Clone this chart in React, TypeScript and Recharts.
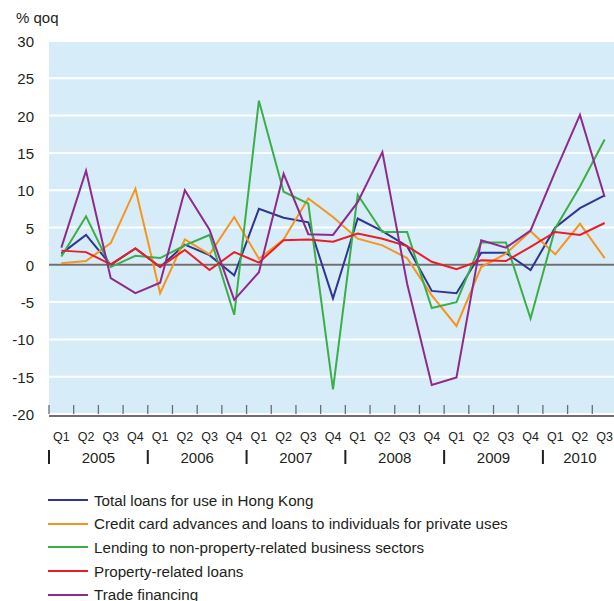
import React from 'react';
import { LineChart, Line, XAxis, YAxis, CartesianGrid, ReferenceLine } from 'recharts';

const quarters = ['Q1', 'Q2', 'Q3', 'Q4', 'Q1', 'Q2', 'Q3', 'Q4', 'Q1', 'Q2', 'Q3', 'Q4', 'Q1', 'Q2', 'Q3', 'Q4', 'Q1', 'Q2', 'Q3', 'Q4', 'Q1', 'Q2', 'Q3'];
const years = ['2005', '2006', '2007', '2008', '2009', '2010'];
const yTicks = [-20, -15, -10, -5, 0, 5, 10, 15, 20, 25, 30];

const totalLoans = [1.5, 4.0, 0.0, 2.2, -0.3, 2.7, 1.3, -1.4, 7.5, 6.3, 5.7, -4.5, 6.2, 4.5, 2.5, -3.5, -3.8, 1.6, 1.6, -0.7, 5.0, 7.6, 9.3];
const creditCard = [0.2, 0.5, 2.9, 10.2, -3.8, 3.4, 1.4, 6.4, 0.8, 3.4, 8.9, 6.4, 3.5, 2.6, 0.9, -4.1, -8.2, -0.3, 1.5, 4.5, 1.4, 5.5, 0.9];
const business = [1.1, 6.5, -0.3, 1.2, 0.9, 2.6, 4.0, -6.7, 22.0, 9.8, 8.2, -16.7, 9.4, 4.4, 4.4, -5.8, -5.0, 3.0, 3.0, -7.2, 4.9, 10.5, 16.8];
const property = [1.9, 1.7, 0.05, 2.2, -0.3, 2.0, -0.7, 1.7, 0.3, 3.3, 3.4, 3.1, 4.2, 3.5, 2.5, 0.4, -0.6, 0.6, 0.5, 2.4, 4.4, 4.0, 5.6];
const trade = [2.3, 12.6, -1.8, -3.8, -2.4, 10.0, 4.7, -4.7, -1.0, 12.2, 4.1, 4.0, 8.4, 15.1, -2.5, -16.1, -15.1, 3.3, 2.3, 4.6, 12.5, 20.1, 9.1];

const series = [
  { key: 'total', name: 'Total loans for use in Hong Kong', color: '#2e3592', values: totalLoans },
  { key: 'credit', name: 'Credit card advances and loans to individuals for private uses', color: '#f7941d', values: creditCard },
  { key: 'business', name: 'Lending to non-property-related business sectors', color: '#3cae48', values: business },
  { key: 'property', name: 'Property-related loans', color: '#ed1c24', values: property },
  { key: 'trade', name: 'Trade financing', color: '#8e2a8e', values: trade },
];

const data = quarters.map((q, i) => {
  const row: any = { x: i + 0.5, q };
  series.forEach((s) => { row[s.key] = s.values[i]; });
  return row;
});

const n = quarters.length;
const centers = quarters.map((_, i) => i + 0.5);
const bounds = Array.from({ length: n + 1 }, (_, i) => i);
const yearCenters = years.map((_, i) => (i * 4 + Math.min(i * 4 + 4, n)) / 2);

const FONT = '"Liberation Sans", Arial, Helvetica, sans-serif';
const TEXT = '#231f20';
const PLOT_BOTTOM = 414;

const QTick = (props: any) => (
  <text x={props.x} y={441} textAnchor="middle" fontSize={12.5} fill={TEXT} fontFamily={FONT}>
    {quarters[props.index]}
  </text>
);

const MarkTick = (props: any) => {
  const k = props.payload.value;
  return (
    <g>
      <line x1={props.x} x2={props.x} y1={PLOT_BOTTOM - 9} y2={PLOT_BOTTOM} stroke="#6d6e71" strokeWidth={1.3} />
      {k % 4 === 0 && k < n && (
        <line x1={props.x} x2={props.x} y1={450} y2={464} stroke={TEXT} strokeWidth={2} />
      )}
    </g>
  );
};

const YearTick = (props: any) => (
  <text x={props.x} y={462.5} textAnchor="middle" fontSize={15} fill={TEXT} fontFamily={FONT}>
    {years[props.index]}
  </text>
);

const YTick = (props: any) => (
  <text x={34} y={props.y + 6} textAnchor="end" fontSize={15} fill={TEXT} fontFamily={FONT}>
    {props.payload.value}
  </text>
);

export default function App() {
  return (
    <div style={{ position: 'absolute', left: 0, top: 0, width: 614, height: 601, overflow: 'hidden', background: '#fff', fontFamily: FONT }}>
      <div style={{ position: 'absolute', left: 16, top: 9, fontSize: 15, color: TEXT }}>% qoq</div>
      <LineChart width={617} height={480} data={data} margin={{ top: 41, right: 0, bottom: 0, left: 0 }}>
        <CartesianGrid xAxisId="q" vertical={false} stroke="#ffffff" strokeWidth={2} fill="#d6ecf8" fillOpacity={1} />
        <XAxis xAxisId="q" type="number" dataKey="x" domain={[0, n]} ticks={centers} interval={0}
          tick={QTick} tickLine={false} axisLine={{ stroke: '#6d6e71', strokeWidth: 2 }} height={62} />
        <XAxis xAxisId="marks" type="number" dataKey="x" domain={[0, n]} ticks={bounds} interval={0}
          tick={MarkTick} tickLine={false} axisLine={false} height={2} />
        <XAxis xAxisId="years" type="number" dataKey="x" domain={[0, n]} ticks={yearCenters} interval={0}
          tick={YearTick} tickLine={false} axisLine={false} height={2} />
        <YAxis domain={[-20, 30]} ticks={yTicks} interval={0} width={49} axisLine={false} tickLine={false} tick={YTick} />
        <ReferenceLine xAxisId="q" y={0} stroke="#6d6e71" strokeWidth={2} />
        {series.map((s) => (
          <Line key={s.key} xAxisId="q" type="linear" dataKey={s.key} name={s.name} stroke={s.color}
            strokeWidth={2} dot={false} activeDot={false} isAnimationActive={false} />
        ))}
      </LineChart>
      {series.map((s, i) => (
        <div key={s.key} style={{ position: 'absolute', left: 48, top: 489 + i * 23.7, height: 22, display: 'flex', alignItems: 'center', fontSize: 15.2, color: TEXT, whiteSpace: 'nowrap' }}>
          <svg width={40} height={4} style={{ marginRight: 6 }}>
            <line x1={0} x2={40} y1={2} y2={2} stroke={s.color} strokeWidth={2} />
          </svg>
          <span>{s.name}</span>
        </div>
      ))}
    </div>
  );
}
